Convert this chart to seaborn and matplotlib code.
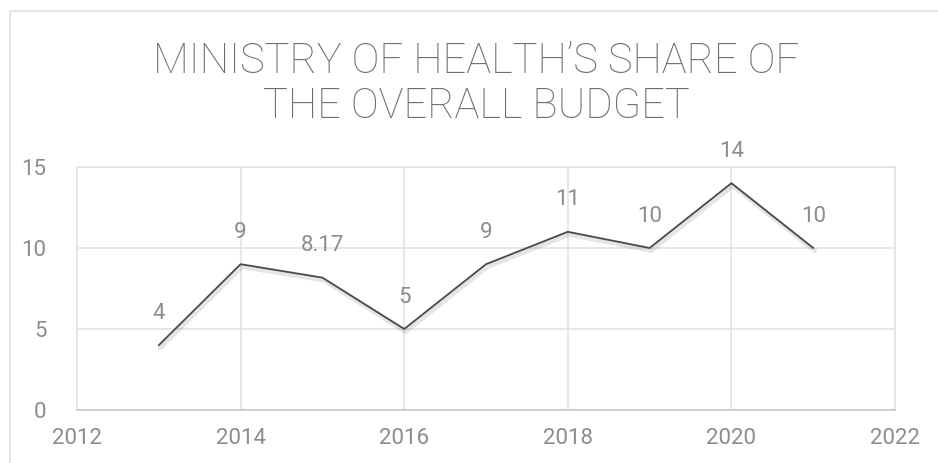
import matplotlib
matplotlib.use("Agg")
import matplotlib.pyplot as plt
import matplotlib.patheffects as pe
from matplotlib.patches import Rectangle
import seaborn as sns
import pandas as pd

years = [2013, 2014, 2015, 2016, 2017, 2018, 2019, 2020, 2021]
share = [4, 9, 8.17, 5, 9, 11, 10, 14, 10]
labels = ["4", "9", "8.17", "5", "9", "11", "10", "14", "10"]
title = "MINISTRY OF HEALTH\u2019S SHARE OF\nTHE OVERALL BUDGET"

df = pd.DataFrame({"year": years, "share": share})

sns.set_theme(style="whitegrid")
plt.rcParams["font.family"] = ["Roboto", "DejaVu Sans"]

W, H = 938, 463
fig = plt.figure(figsize=(W / 100, H / 100), dpi=100)
ax = fig.add_axes([77 / W, 1 - 410 / H, (895 - 77) / W, (410 - 167) / H])

grey_txt = "#8c8c8c"

shadow = [pe.SimpleLineShadow(offset=(1, -1.8), shadow_color="#000000", alpha=0.10, linewidth=3.5),
          pe.Normal()]
sns.lineplot(data=df, x="year", y="share", ax=ax, color="#4a4a4a", linewidth=1.3,
             path_effects=shadow)

# data labels above each point
for x, y, t in zip(years, share, labels):
    ax.annotate(t, (x, y), xytext=(0, 23), textcoords="offset points", ha="center",
                va="center", fontsize=16, color=grey_txt)

ax.set_xlim(2012, 2022)
ax.set_ylim(0, 15)
ax.set_xticks(range(2012, 2023, 2))
ax.set_yticks([0, 5, 10, 15])
ax.set_xlabel("")
ax.set_ylabel("")
ax.grid(True, color="#e3e3e3", linewidth=1.2)
ax.set_facecolor("white")
for s in ["top", "right", "left"]:
    ax.spines[s].set_color("#e3e3e3")
    ax.spines[s].set_linewidth(1.2)
ax.spines["bottom"].set_color("#c8c8c8")
ax.spines["bottom"].set_linewidth(1.2)
ax.tick_params(axis="both", labelsize=16, colors=grey_txt, length=0)
ax.tick_params(axis="x", pad=13)
ax.tick_params(axis="y", pad=22)

fig.text(476 / W, 1 - 84 / H, title, ha="center", va="center", fontsize=30,
         color="#6e6e6e", fontweight="light", linespacing=1.12)

# outer chart-area border
fig.add_artist(Rectangle((10 / W, -0.05), 1.05, 1 - 11 / H + 0.05, transform=fig.transFigure,
                         fill=False, edgecolor="#e0e0e0", linewidth=1.2))

fig.savefig("out.png", dpi=100)
